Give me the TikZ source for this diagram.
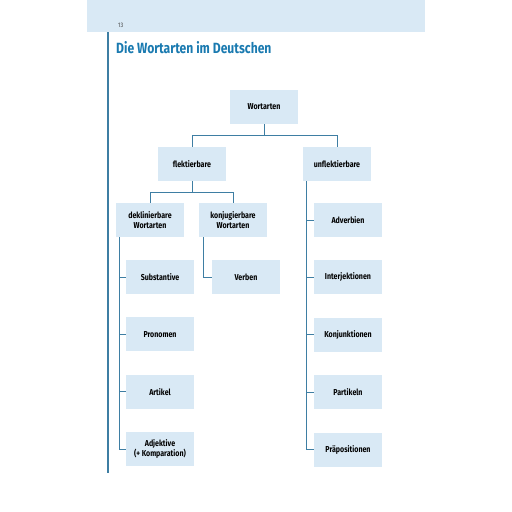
\documentclass[tikz,border=0pt]{standalone}
\usepackage{fontspec}
\setmainfont{Fira Sans}[FakeStretch=0.82]
\usetikzlibrary{positioning}
\definecolor{bandblue}{RGB}{217,233,245}
\definecolor{boxblue}{RGB}{217,233,245}
\definecolor{lineblue}{RGB}{62,126,163}
\definecolor{titleblue}{RGB}{26,122,176}
\tikzset{
    wbox/.style={fill=boxblue, minimum width=68pt, minimum height=34pt, inner sep=1pt, align=center, font=\fontsize{8.6}{10}\selectfont\bfseries},
    tree/.style={draw=lineblue, line width=0.9pt},
}
\begin{document}
\begin{tikzpicture}[x=1pt, y=-1pt]
            \useasboundingbox (0,0) rectangle (512,512);
            % Page head
            \fill[bandblue] (87,0) rectangle (425,32);
            \draw[lineblue, line width=1.2pt] (108,32) -- (108,473);
            \node[anchor=base west, inner sep=0pt, text=black!75, font=\fontsize{6.5}{7}\selectfont] (page) at (118,27) {13};
            \node[anchor=base west, inner sep=0pt, text=titleblue, font=\fontsize{14.8}{17}\selectfont\bfseries] (title) at (116,53) {Die Wortarten im Deutschen};

            % Top levels
            \node[wbox] (wort) at (264,107) {Wortarten};
            \node[wbox] (flekt) at (192,164) {flektierbare};
            \node[wbox] (unflekt) at (337,164) {unflektierbare};
            \node[wbox] (dekl) at (150,220) {deklinierbare\\Wortarten};
            \node[wbox] (konj) at (233,220) {konjugierbare\\Wortarten};

            % Declinable
            \node[wbox] (subst) at (160,277) {Substantive};
            \node[wbox, below=23pt of subst] (pron) {Pronomen};
            \node[wbox, below=23pt of pron] (art) {Artikel};
            \node[wbox, below=23pt of art] (adj) {Adjektive\\(+ Komparation)};

            % Conjugable
            \node[wbox] (verb) at (246,277) {Verben};

            % Uninflected
            \node[wbox] (adv) at (348,220) {Adverbien};
            \node[wbox, below=23pt of adv] (interj) {Interjektionen};
            \node[wbox, below=23pt of interj] (konjunk) {Konjunktionen};
            \node[wbox, below=23pt of konjunk] (part) {Partikeln};
            \node[wbox, below=23pt of part] (praep) {Präpositionen};

            % Relationships
            \draw[tree] (wort.south) -- ++(0,11) -| (flekt.north);
            \draw[tree] (wort.south) -- ++(0,11) -| (unflekt.north);
            \draw[tree] (flekt.south) -- ++(0,11) -| (dekl.north);
            \draw[tree] (flekt.south) -- ++(0,11) -| (konj.north);
            \draw[tree] ([xshift=4pt]dekl.south west) |- (adj.west);
            \foreach \n in {subst, pron, art}
                \draw[tree] (\n.west) -- ++(-6,0);
            \draw[tree] ([xshift=5pt]konj.south west) |- (verb.west);
            \draw[tree] ([xshift=4pt]unflekt.south west) |- (praep.west);
            \foreach \n in {adv, interj, konjunk, part}
                \draw[tree] (\n.west) -- ++(-7,0);
        \end{tikzpicture}
\end{document}
